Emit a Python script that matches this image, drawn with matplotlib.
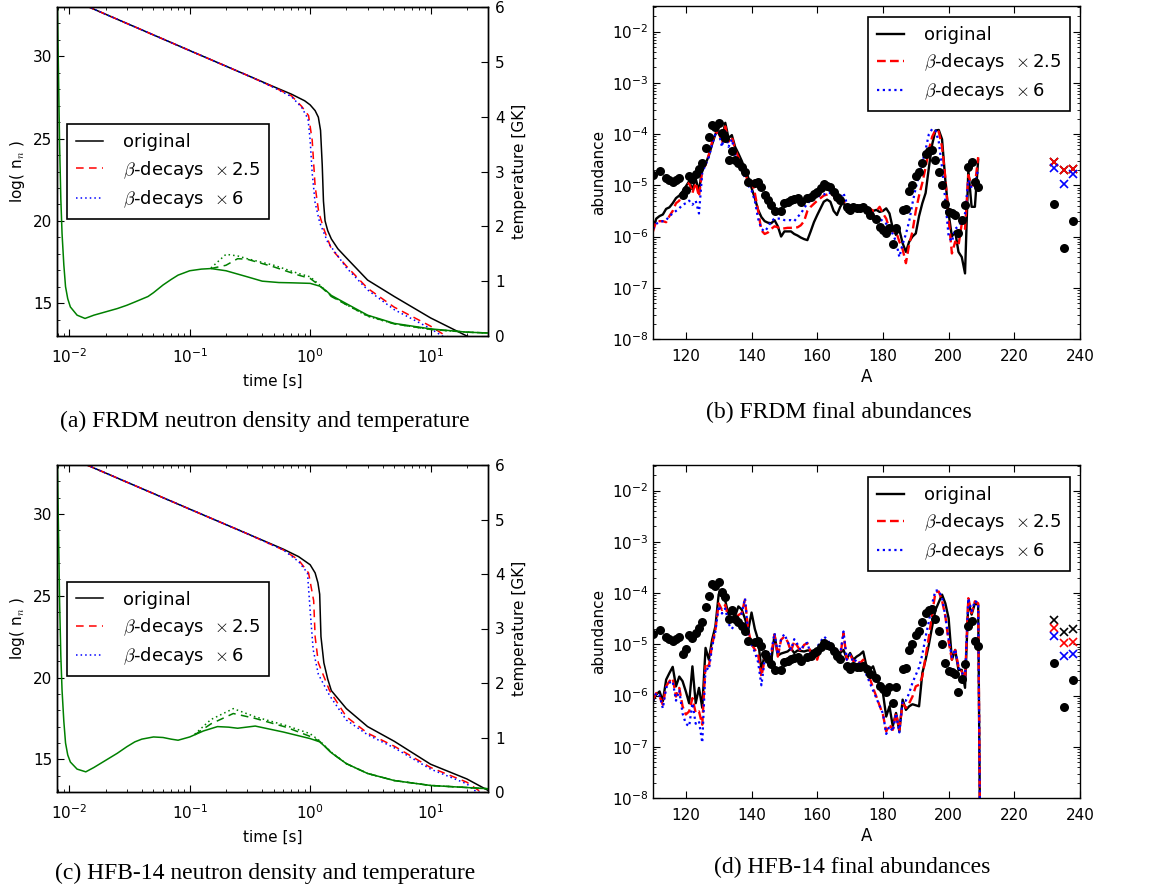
import numpy as np
import matplotlib
matplotlib.use("Agg")
import matplotlib.pyplot as plt
from matplotlib.ticker import MultipleLocator, LogLocator, NullFormatter

plt.rcParams['font.family'] = ['DejaVu Sans']
plt.rcParams['mathtext.fontset'] = 'cm'
plt.rcParams['font.size'] = 11
plt.rcParams['axes.linewidth'] = 1.0

labels = ['original', r'$\beta$-decays  $\times\,$2.5', r'$\beta$-decays  $\times\,$6']

# ---------------- (a) FRDM neutron density [log n_n] vs time [s]
t_a_orig = [0.014, 0.1, 0.3, 0.5, 0.7, 0.9, 1.0, 1.1, 1.17, 1.22, 1.26, 1.29, 1.33, 1.4, 1.5, 1.7, 2.0, 3.0, 5.0, 10, 20, 30]
n_a_orig = [33.05, 30.35, 28.85, 28.15, 27.7, 27.3, 27.05, 26.7, 26.3, 25.5, 23.4, 21.2, 20.0, 19.4, 18.9, 18.3, 17.75, 16.4, 15.4, 14.1, 13.0, 12.5]
t_a_x25 = [0.014, 0.1, 0.3, 0.5, 0.7, 0.85, 0.97, 1.04, 1.1, 1.18, 1.3, 1.5, 2.0, 3.0, 5.0, 10, 13.4, 20]
n_a_x25 = [33.05, 30.35, 28.85, 28.12, 27.6, 26.96, 26.4, 24.9, 22.1, 20.5, 19.5, 18.3, 17.25, 15.9, 14.75, 13.6, 13.0, 12.6]
t_a_x6 = [0.014, 0.1, 0.3, 0.5, 0.7, 0.85, 0.96, 1.0, 1.04, 1.1, 1.2, 1.4, 2.0, 3.0, 5.0, 10, 12.5, 20]
n_a_x6 = [33.05, 30.35, 28.85, 28.1, 27.55, 26.9, 26.2, 24.9, 22.9, 21.1, 19.9, 18.7, 17.15, 15.8, 14.6, 13.45, 13.0, 12.5]

# temperature [GK] (a)
tT_a = [0.0079, 0.0081, 0.0083, 0.0085, 0.0087, 0.009, 0.0093, 0.0097, 0.0102, 0.0116, 0.0135, 0.016, 0.02,
        0.025, 0.03, 0.035, 0.045, 0.05, 0.06, 0.07, 0.08, 0.1, 0.125, 0.15, 0.2, 0.3, 0.4, 0.55, 0.7, 1.0,
        1.2, 1.35, 1.5, 2.0, 3.0, 5.0, 10, 20, 30]
T_a_orig = [6.5, 5.0, 3.5, 2.5, 1.87, 1.3, 0.9, 0.68, 0.53, 0.38, 0.32, 0.38, 0.44,
            0.5, 0.56, 0.62, 0.72, 0.79, 0.93, 1.03, 1.11, 1.19, 1.22, 1.23, 1.19, 1.08, 1.0, 0.975, 0.97, 0.96,
            0.91, 0.83, 0.74, 0.59, 0.38, 0.23, 0.13, 0.07, 0.055]
tT_a_mod = [0.15, 0.2, 0.25, 0.3, 0.5, 0.8, 1.0, 1.2, 1.5, 2.0, 3.0, 5.0, 10, 20, 30]
T_a_x25 = [1.23, 1.29, 1.41, 1.40, 1.26, 1.11, 1.05, 0.92, 0.72, 0.57, 0.37, 0.22, 0.12, 0.07, 0.055]
T_a_x6 = [1.24, 1.49, 1.46, 1.41, 1.29, 1.14, 1.08, 0.93, 0.73, 0.57, 0.36, 0.22, 0.12, 0.07, 0.055]

# ---------------- (c) HFB-14 neutron density vs time
t_c_orig = [0.014, 0.1, 0.3, 0.6, 0.8, 1.0, 1.1, 1.16, 1.2, 1.23, 1.3, 1.4, 1.5, 2.0, 3.0, 5.0, 10, 20, 30]
n_c_orig = [33.0, 30.3, 28.8, 27.85, 27.4, 26.9, 26.4, 25.8, 25.1, 22.5, 20.9, 19.9, 19.2, 18.1, 17.0, 16.1, 14.7, 13.8, 13.1]
t_c_x25 = [0.014, 0.1, 0.3, 0.6, 0.8, 0.97, 1.07, 1.1, 1.17, 1.45, 2.0, 3.0, 5.0, 10, 20, 25, 30]
n_c_x25 = [33.0, 30.3, 28.8, 27.8, 27.2, 26.4, 24.7, 22.5, 20.9, 19.2, 17.6, 16.6, 15.8, 14.5, 13.6, 13.1, 12.9]
t_c_x6 = [0.014, 0.1, 0.3, 0.6, 0.8, 0.95, 1.0, 1.06, 1.17, 1.45, 2.0, 3.0, 5.0, 10, 20, 23, 30]
n_c_x6 = [33.0, 30.3, 28.8, 27.8, 27.1, 26.4, 24.1, 21.7, 20.2, 18.9, 17.4, 16.5, 15.7, 14.4, 13.5, 13.1, 12.8]

tT_c = [0.0079, 0.0081, 0.0083, 0.0085, 0.0087, 0.009, 0.0093, 0.0097, 0.0102, 0.0116, 0.0137, 0.016, 0.02,
        0.025, 0.03, 0.035, 0.04, 0.05, 0.06, 0.07, 0.08, 0.1, 0.13, 0.17, 0.21, 0.25, 0.35, 0.6, 1.0,
        1.2, 1.35, 1.5, 2.0, 3.0, 5.0, 10, 30]
T_c_orig = [6.5, 5.0, 3.5, 2.5, 1.87, 1.3, 0.9, 0.68, 0.55, 0.42, 0.37, 0.45, 0.58,
            0.71, 0.83, 0.92, 0.97, 1.01, 1.0, 0.97, 0.95, 1.01, 1.12, 1.2, 1.19, 1.17, 1.21, 1.1, 0.98,
            0.92, 0.82, 0.72, 0.52, 0.34, 0.21, 0.12, 0.06]
tT_c_mod = [0.11, 0.15, 0.23, 0.35, 0.63, 1.0, 1.2, 1.5, 2.0, 3.0, 5.0, 10, 30]
T_c_x25 = [1.05, 1.25, 1.44, 1.35, 1.19, 1.02, 0.93, 0.72, 0.52, 0.34, 0.21, 0.12, 0.06]
T_c_x6 = [1.06, 1.33, 1.53, 1.38, 1.22, 1.07, 0.94, 0.73, 0.52, 0.34, 0.21, 0.12, 0.06]

# ---------------- abundances, log10 values, one per mass number A
A_calc = list(range(110, 210))
logY_b_orig = [-5.84, -5.65, -5.60, -5.57, -5.46, -5.43, -5.35, -5.25, -5.20, -5.12,
               -5.02, -4.92, -5.08, -4.87, -5.12, -4.65, -4.58, -4.42, -4.20, -4.00,
               -3.95, -4.10, -3.78, -4.08, -4.02, -4.25, -4.38, -4.52, -4.68, -4.85,
               -5.05, -5.25, -5.48, -5.62, -5.70, -5.73, -5.74, -5.68, -5.80, -6.00,
               -5.90, -5.90, -5.90, -5.95, -5.98, -6.02, -6.05, -6.07, -5.90, -5.72,
               -5.58, -5.45, -5.32, -5.28, -5.32, -5.50, -5.58, -5.42, -5.32, -5.52,
               -5.42, -5.45, -5.45, -5.42, -5.45, -5.48, -5.47, -5.50, -5.48, -5.52,
               -5.50, -5.45, -5.55, -5.84, -5.97, -5.87, -6.13, -6.30, -6.10, -6.00,
               -5.94, -5.60, -5.35, -5.15, -4.65, -4.20, -3.93, -3.92, -4.10, -4.90,
               -5.55, -6.00, -5.90, -6.30, -6.40, -6.72, -4.70, -5.42, -5.42, -4.50]
logY_b_x25 = [-5.90, -5.70, -5.70, -5.70, -5.72, -5.60, -5.50, -5.35, -5.30, -5.15,
              -5.05, -4.95, -5.15, -4.95, -5.22, -4.70, -4.60, -4.40, -4.15, -3.98,
              -3.97, -4.15, -3.85, -4.15, -4.05, -4.30, -4.45, -4.60, -4.75, -4.95,
              -4.90, -5.15, -5.50, -5.88, -5.95, -5.92, -5.85, -5.80, -5.82, -5.85,
              -5.84, -5.83, -5.83, -5.82, -5.82, -5.78, -5.70, -5.50, -5.42, -5.36,
              -5.30, -5.25, -5.20, -5.18, -5.15, -5.20, -5.35, -5.35, -5.30, -5.45,
              -5.40, -5.45, -5.40, -5.45, -5.40, -5.45, -5.45, -5.50, -5.50, -5.42,
              -5.55, -5.65, -5.85, -5.90, -5.90, -6.10, -6.25, -6.52, -6.15, -5.90,
              -5.50, -5.20, -4.95, -4.65, -4.30, -4.05, -3.92, -3.95, -4.25, -4.85,
              -5.65, -6.33, -6.10, -6.18, -5.75, -5.85, -4.80, -5.00, -5.00, -4.45]
logY_b_x6 = [-5.85, -5.75, -5.72, -5.70, -5.68, -5.60, -5.55, -5.50, -5.45, -5.38,
             -5.35, -5.30, -5.38, -5.30, -5.55, -4.75, -4.60, -4.45, -4.20, -4.00,
             -3.97, -4.25, -3.95, -4.25, -4.10, -4.40, -4.55, -4.70, -4.85, -5.00,
             -5.10, -5.30, -5.65, -5.85, -5.90, -5.82, -5.70, -5.65, -5.65, -5.65,
             -5.68, -5.68, -5.68, -5.70, -5.62, -5.55, -5.45, -5.35, -5.30, -5.25,
             -5.22, -5.20, -5.18, -5.15, -5.15, -5.20, -5.30, -5.25, -5.15, -5.35,
             -5.40, -5.45, -5.40, -5.48, -5.45, -5.50, -5.52, -5.55, -5.60, -5.65,
             -5.70, -5.75, -5.85, -5.95, -6.10, -6.40, -6.15, -5.95, -5.70, -5.35,
             -5.05, -4.80, -4.55, -4.30, -4.00, -3.90, -3.93, -4.15, -4.65, -5.30,
             -6.00, -6.10, -5.85, -5.80, -5.70, -5.55, -4.90, -5.05, -4.95, -4.70]

A_calc_d = list(range(110, 211))
logY_d_orig = [-6.11, -5.98, -5.92, -6.11, -5.69, -5.56, -5.44, -5.82, -5.63, -5.72,
               -5.92, -6.15, -5.43, -6.15, -5.85, -6.24, -5.07, -5.30, -4.91, -4.65,
               -4.02, -4.07, -4.15, -4.42, -4.40, -4.45, -4.26, -4.32, -4.50, -4.72,
               -4.38, -4.70, -4.91, -5.50, -5.20, -5.15, -5.33, -4.81, -5.22, -5.18,
               -5.16, -5.14, -5.08, -5.17, -5.12, -5.13, -5.14, -5.12, -5.12, -5.27,
               -5.17, -5.06, -4.98, -4.98, -5.04, -5.07, -5.12, -5.17, -5.11, -5.28,
               -5.17, -5.30, -5.24, -5.20, -5.14, -5.43, -5.50, -5.43, -5.63, -5.80,
               -5.95, -6.41, -6.21, -6.60, -6.34, -6.70, -6.08, -6.28, -6.21, -6.17,
               -6.19, -6.21, -5.56, -5.30, -5.00, -4.65, -4.33, -4.18, -4.03, -4.20,
               -4.49, -5.30, -5.11, -5.50, -5.50, -5.85, -4.16, -4.42, -4.20, -4.23, -12]
logY_d_x25 = [-6.08, -5.95, -6.02, -6.18, -5.82, -5.72, -5.66, -6.02, -5.85, -6.21,
              -6.37, -6.31, -6.05, -6.34, -6.31, -6.57, -5.37, -5.43, -5.01, -4.72,
              -4.20, -4.33, -4.23, -4.50, -4.55, -4.50, -4.43, -4.39, -4.13, -4.72,
              -5.00, -5.10, -5.20, -5.63, -5.30, -5.30, -5.20, -4.81, -5.24, -4.91,
              -4.85, -4.95, -5.14, -4.94, -5.04, -5.14, -5.01, -4.98, -5.15, -5.25,
              -5.30, -5.07, -4.91, -4.94, -5.01, -5.07, -5.20, -5.24, -4.78, -5.30,
              -5.20, -5.33, -5.30, -5.37, -5.30, -5.53, -5.66, -5.85, -6.02, -6.20,
              -6.37, -6.70, -6.57, -6.67, -6.34, -6.67, -6.15, -6.24, -6.15, -6.02,
              -5.82, -5.79, -5.63, -5.24, -4.85, -4.40, -3.98, -3.97, -4.15, -4.45,
              -4.95, -5.30, -5.11, -5.43, -5.53, -5.69, -4.10, -4.39, -4.16, -4.20, -12]
logY_d_x6 = [-6.10, -5.95, -6.00, -6.25, -5.85, -5.75, -5.72, -6.10, -5.90, -6.35,
             -6.55, -6.60, -6.15, -6.55, -6.50, -6.92, -5.45, -5.50, -5.05, -4.75,
             -4.25, -4.40, -4.30, -4.60, -4.70, -4.60, -4.45, -4.40, -4.10, -4.80,
             -5.00, -5.15, -5.35, -5.80, -5.30, -5.25, -5.15, -4.78, -5.20, -4.90,
             -4.80, -4.95, -5.10, -4.90, -5.00, -5.12, -5.00, -4.97, -5.20, -5.30,
             -5.05, -4.95, -4.85, -4.90, -5.00, -5.05, -5.18, -5.20, -4.75, -5.30,
             -5.20, -5.35, -5.30, -5.38, -5.35, -5.60, -5.75, -5.90, -6.05, -6.20,
             -6.35, -6.75, -6.60, -6.70, -6.35, -6.72, -6.10, -6.10, -5.95, -5.75,
             -5.60, -5.45, -5.20, -4.85, -4.55, -4.20, -3.95, -3.95, -4.10, -4.45,
             -4.90, -5.25, -5.10, -5.45, -5.55, -5.65, -4.10, -4.35, -4.15, -4.20, -12]

# solar r-process abundances (dots)
A_solar = [110, 112, 114, 115, 116, 117, 118, 119, 120, 121, 122, 123, 124, 125, 126, 127, 128, 129, 130,
           131, 132, 133, 134, 135, 136, 137, 138, 139, 141, 142, 143, 144, 145, 146, 147, 149, 150, 151,
           152, 153, 154, 155, 157, 158, 159, 160, 161, 162, 163, 164, 165, 166, 167, 169, 170, 171, 172,
           173, 174, 175, 176, 178, 179, 180, 181, 182, 183, 184, 186, 187, 188, 189, 190, 191, 192, 193,
           194, 195, 196, 197, 198, 199, 200, 201, 202, 203, 204, 205, 206, 207, 208, 209, 232, 235, 238]
logY_solar = [-4.80, -4.72, -4.85, -4.90, -4.93, -4.90, -4.85, -5.19, -5.09, -4.82, -4.87, -4.77, -4.69,
              -4.56, -4.28, -4.05, -3.82, -3.86, -3.78, -3.97, -4.08, -4.51, -4.34, -4.51, -4.57, -4.64,
              -4.74, -4.93, -4.95, -4.93, -5.04, -5.18, -5.29, -5.39, -5.50, -5.50, -5.35, -5.32, -5.29,
              -5.26, -5.24, -5.32, -5.24, -5.22, -5.16, -5.13, -5.06, -4.98, -5.02, -5.04, -5.13, -5.22,
              -5.29, -5.43, -5.48, -5.42, -5.45, -5.45, -5.43, -5.48, -5.58, -5.65, -5.81, -5.87, -5.94,
              -5.84, -6.15, -5.84, -5.48, -5.47, -5.11, -5.00, -4.82, -4.74, -4.57, -4.38, -4.34, -4.31,
              -4.51, -4.74, -5.00, -5.37, -5.52, -5.55, -5.58, -5.94, -5.68, -5.39, -4.64, -4.54, -4.93,
              -5.04, -5.36, -6.22, -5.69]

# actinides (crosses)
A_act = [232, 235, 238]
logY_b_act_orig = [-4.55, -4.70, -4.68]
logY_b_act_x25 = [-4.55, -4.70, -4.68]
logY_b_act_x6 = [-4.66, -4.97, -4.77]
logY_d_act_orig = [-4.53, -4.75, -4.71]
logY_d_act_x25 = [-4.68, -4.98, -4.95]
logY_d_act_x6 = [-4.84, -5.23, -5.19]


def pow10(v):
    return 10.0 ** np.array(v)


def legend_box(ax, handles, anchor, loc):
    leg = ax.legend(handles, labels, loc=loc, bbox_to_anchor=anchor, borderaxespad=0,
                    fancybox=False, framealpha=1, edgecolor='k', fontsize=13,
                    handlelength=1.5, handletextpad=1.1, borderpad=0.5, labelspacing=0.4)
    leg.get_frame().set_linewidth(1.2)
    return leg


def time_panel(rect, dens, temps):
    ax = fig.add_axes(rect)
    ax2 = ax.twinx()
    (t0, n0), (t1, n1), (t2, n2) = dens
    h0, = ax.plot(t0, n0, color='k', lw=1.1)
    h1, = ax.plot(t1, n1, color='r', lw=1.1, ls=(0, (5, 3.5)))
    h2, = ax.plot(t2, n2, color='b', lw=1.1, ls=(0, (1, 2)))
    (tT, T0), (tm, T1, T2) = temps
    ax2.plot(tT, T0, color='g', lw=1.1)
    ax2.plot(tm, T1, color='g', lw=1.1, ls=(0, (5, 3.5)))
    ax2.plot(tm, T2, color='g', lw=1.1, ls=(0, (1, 2)))
    ax.set_xscale('log')
    ax.set_xlim(0.0079, 30)
    ax.set_ylim(13, 33)
    ax.set_yticks([15, 20, 25, 30])
    ax.yaxis.set_minor_locator(MultipleLocator(1))
    ax.tick_params(which='both', direction='in', top=True, right=False, labelsize=11)
    ax.tick_params(which='major', length=5)
    ax.tick_params(which='minor', length=2.5)
    ax.tick_params(axis='x', which='both', pad=8)
    ax2.set_ylim(0, 6)
    ax2.set_yticks(range(0, 7))
    ax2.tick_params(direction='in', length=5, labelsize=11, pad=5)
    ax.set_xlabel('time [s]', fontsize=11, labelpad=6)
    ax.set_ylabel(r'log( n$_n$ )', fontsize=11)
    ax2.set_ylabel('temperature [GK]', fontsize=11, labelpad=5)
    legend_box(ax2, [h0, h1, h2], (0.023, 0.643), 'upper left')
    return ax


def abund_panel(rect, A, y0, y1, y2, act, anchor):
    ax = fig.add_axes(rect)
    h0, = ax.plot(A, pow10(y0), color='k', lw=1.7)
    h1, = ax.plot(A, pow10(y1), color='r', lw=1.7, ls=(0, (3.7, 1.8)))
    h2, = ax.plot(A, pow10(y2), color='b', lw=1.6, ls=(0, (1, 1.6)))
    ax.plot(A_solar, pow10(logY_solar), 'o', color='k', ms=6.5, mew=0)
    for vals, c in zip(act, ['k', 'r', 'b']):
        ax.plot(A_act, pow10(vals), 'x', color=c, ms=5.5, mew=1.2)
    ax.set_yscale('log')
    ax.set_xlim(110, 240)
    ax.set_ylim(1e-8, 10 ** -1.5)
    ax.set_xticks(range(120, 241, 20))
    ax.yaxis.set_major_locator(LogLocator(base=10, numticks=20))
    ax.yaxis.set_minor_locator(LogLocator(base=10, subs=np.arange(2, 10), numticks=20))
    ax.yaxis.set_minor_formatter(NullFormatter())
    ax.tick_params(which='both', direction='in', top=True, right=True, labelsize=11)
    ax.tick_params(which='major', length=5)
    ax.tick_params(which='minor', length=2.5)
    ax.tick_params(axis='x', which='both', pad=7)
    ax.set_xlabel('A', fontsize=12, labelpad=3)
    ax.set_ylabel('abundance', fontsize=11)
    legend_box(ax, [h0, h1, h2], anchor, 'upper right')
    return ax


fig = plt.figure(figsize=(11.71, 8.9), dpi=100)
W, H = 1171.0, 890.0


def rect(x0, y0, x1, y1):
    return [x0 / W, 1 - y1 / H, (x1 - x0) / W, (y1 - y0) / H]


time_panel(rect(57, 7, 488, 336),
           [(t_a_orig, n_a_orig), (t_a_x25, n_a_x25), (t_a_x6, n_a_x6)],
           [(tT_a, T_a_orig), (tT_a_mod, T_a_x25, T_a_x6)])
abund_panel(rect(653, 6, 1080, 339), A_calc, logY_b_orig, logY_b_x25, logY_b_x6,
            [logY_b_act_orig, logY_b_act_x25, logY_b_act_x6], (0.977, 0.967))
time_panel(rect(57, 465, 488, 792),
           [(t_c_orig, n_c_orig), (t_c_x25, n_c_x25), (t_c_x6, n_c_x6)],
           [(tT_c, T_c_orig), (tT_c_mod, T_c_x25, T_c_x6)])
abund_panel(rect(653, 465, 1080, 798), A_calc_d, logY_d_orig, logY_d_x25, logY_d_x6,
            [logY_d_act_orig, logY_d_act_x25, logY_d_act_x6], (0.977, 0.964))

cap = dict(family=['Liberation Serif', 'DejaVu Serif'], fontsize=17, ha='center', va='center')
fig.text(265 / W, 1 - 421 / H, '(a) FRDM neutron density and temperature', **cap)
fig.text(839 / W, 1 - 412 / H, '(b) FRDM final abundances', **cap)
fig.text(265 / W, 1 - 873 / H, '(c) HFB-14 neutron density and temperature', **cap)
fig.text(852 / W, 1 - 867 / H, '(d) HFB-14 final abundances', **cap)

fig.savefig('out.png', dpi=100)
